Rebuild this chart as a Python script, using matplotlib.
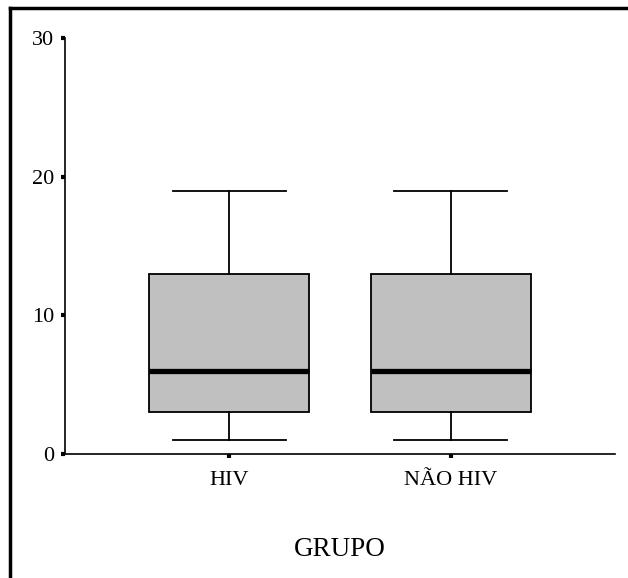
import matplotlib.pyplot as plt
from matplotlib.lines import Line2D

plt.rcParams['font.family'] = ['Liberation Serif', 'DejaVu Serif']

# dados (mínimo, Q1, mediana, Q3, máximo)
grupos = ['HIV', 'NÃO HIV']
minimos = [1, 1]
q1 = [3, 3]
medianas = [6, 6]
q3 = [13, 13]
maximos = [19, 19]

stats = []
for i, g in enumerate(grupos):
    stats.append({'label': g, 'whislo': minimos[i], 'q1': q1[i], 'med': medianas[i],
                  'q3': q3[i], 'whishi': maximos[i], 'fliers': []})

fig = plt.figure(figsize=(6.28, 5.78), dpi=100)
ax = fig.add_axes([0.1035, 0.2145, 0.8755, 0.7195])

ax.bxp(stats, positions=[1, 2], widths=0.72, capwidths=0.51, patch_artist=True,
       boxprops=dict(facecolor='#c0c0c0', edgecolor='black', linewidth=1.3),
       medianprops=dict(color='black', linewidth=3.8, solid_capstyle='butt'),
       whiskerprops=dict(color='black', linewidth=1.3),
       capprops=dict(color='black', linewidth=1.3))

ax.set_xlim(0.26, 2.74)
ax.set_ylim(0, 30)
ax.set_yticks([0, 10, 20, 30])
ax.set_xticks([1, 2])
ax.set_xticklabels(grupos)
ax.spines['top'].set_visible(False)
ax.spines['right'].set_visible(False)
ax.spines['left'].set_linewidth(1.2)
ax.spines['bottom'].set_linewidth(1.2)
ax.tick_params(axis='both', direction='out', length=3, width=3, labelsize=16)
ax.tick_params(axis='y', pad=5)
ax.tick_params(axis='x', pad=9)

ax.set_xlabel('GRUPO', fontsize=19.5, labelpad=34)

# moldura (apenas topo e esquerda visíveis)
fig.add_artist(Line2D([10/628, 10/628], [0, 1 - 8/578], transform=fig.transFigure,
                      color='black', linewidth=2.5))
fig.add_artist(Line2D([10/628, 1], [1 - 8/578, 1 - 8/578], transform=fig.transFigure,
                      color='black', linewidth=2.5))

fig.savefig('out.png', dpi=100)
